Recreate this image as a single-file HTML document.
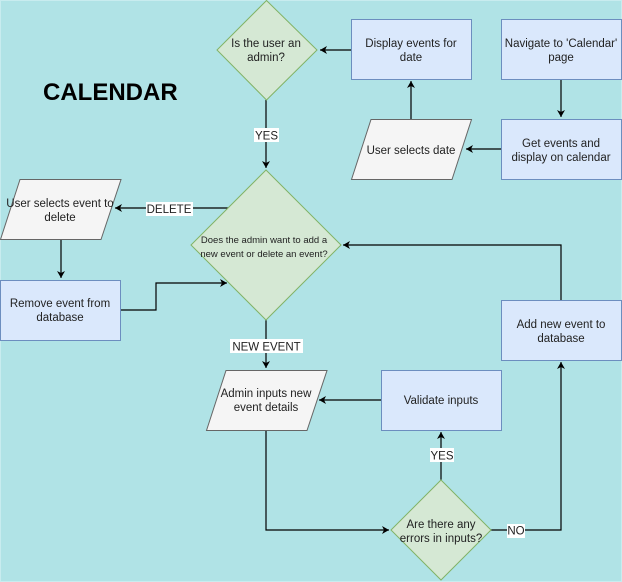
<!DOCTYPE html>
<html><head><meta charset="utf-8"><style>
html,body{margin:0;padding:0;background:#fff;}
svg{display:block;}
text{font-family:"Liberation Sans",Helvetica,sans-serif;font-size:11.5px;fill:#222;}
</style></head><body>
<svg width="622" height="582" viewBox="0 0 622 582" xmlns="http://www.w3.org/2000/svg">
<defs>
<marker id="a" markerWidth="8" markerHeight="8" refX="7" refY="4" orient="auto" markerUnits="userSpaceOnUse">
<path d="M0,0 L7,4 L0,8 L2,4 Z" fill="#000"/>
</marker>
</defs>
<rect x="0.5" y="0.5" width="621" height="581" fill="#b0e3e6" stroke="#c8ecef"/>

<g stroke="#000" stroke-width="1.2" fill="none">
<path d="M351,50 L320,50" marker-end="url(#a)"/>
<path d="M561,79 L561,117" marker-end="url(#a)"/>
<path d="M501,149 L466,149" marker-end="url(#a)"/>
<path d="M411,119 L411,81" marker-end="url(#a)"/>
<path d="M266,100 L266,168" marker-end="url(#a)"/>
<path d="M228,208 L115,208" marker-end="url(#a)"/>
<path d="M61,239 L61,278" marker-end="url(#a)"/>
<path d="M121,310 L156,310 L156,283 L227,283" marker-end="url(#a)"/>
<path d="M266,320 L266,368" marker-end="url(#a)"/>
<path d="M381,400 L319,400" marker-end="url(#a)"/>
<path d="M266,430 L266,530 L389,530" marker-end="url(#a)"/>
<path d="M441,480 L441,432" marker-end="url(#a)"/>
<path d="M491,530 L561,530 L561,362" marker-end="url(#a)"/>
<path d="M561,300 L561,245 L343,245" marker-end="url(#a)"/>
</g>

<g fill="#dae8fc" stroke="#6c8ebf" stroke-width="1">
<rect x="351.5" y="19.5" width="120" height="60"/>
<rect x="501.5" y="19.5" width="120" height="60"/>
<rect x="501.5" y="119.5" width="120" height="60"/>
<rect x="0.5" y="280.5" width="120" height="60"/>
<rect x="381.5" y="370.5" width="120" height="60"/>
<rect x="501.5" y="300.5" width="120" height="60"/>
</g>
<g fill="#f5f5f5" stroke="#666" stroke-width="1">
<polygon points="371,119.5 471.5,119.5 452,179.5 351.5,179.5"/>
<polygon points="20,179.5 121,179.5 101,239.5 0.5,239.5"/>
<polygon points="226,370.5 327,370.5 307,430.5 206.5,430.5"/>
</g>
<g fill="#d5e8d4" stroke="#82b366" stroke-width="1">
<polygon points="266.5,0.5 317,50 266.5,100 217,50"/>
<polygon points="266,170 341,245 266,320 191,245"/>
<polygon points="441,480 491,530 441,580 391,530"/>
</g>

<g fill="#fff">
<rect x="254" y="128" width="25" height="14"/>
<rect x="146" y="202" width="47" height="14"/>
<rect x="230" y="339" width="73" height="14"/>
<rect x="430" y="448" width="24" height="14"/>
<rect x="507" y="524" width="18" height="14"/>
</g>
<g text-anchor="middle">
<text x="266.5" y="139.5">YES</text>
<text x="169" y="213">DELETE</text>
<text x="266.5" y="350.5">NEW EVENT</text>
<text x="442" y="459.5">YES</text>
<text x="516" y="534.5">NO</text>

<text x="266" y="47">Is the user an</text>
<text x="266" y="61">admin?</text>
<text x="411" y="47">Display events for</text>
<text x="411" y="61">date</text>
<text x="561" y="47">Navigate to 'Calendar'</text>
<text x="561" y="61">page</text>
<text x="411" y="154">User selects date</text>
<text x="561" y="147">Get events and</text>
<text x="561" y="161">display on calendar</text>
<text x="60" y="207">User selects event to</text>
<text x="60" y="221">delete</text>
<text x="60" y="307">Remove event from</text>
<text x="60" y="321">database</text>
<text x="264" y="243" style="font-size:9.5px">Does the admin want to add a</text>
<text x="264" y="257" style="font-size:9.5px">new event or delete an event?</text>
<text x="266" y="397">Admin inputs new</text>
<text x="266" y="411">event details</text>
<text x="441" y="404">Validate inputs</text>
<text x="561" y="328">Add new event to</text>
<text x="561" y="342">database</text>
<text x="441" y="528">Are there any</text>
<text x="441" y="542">errors in inputs?</text>
</g>
<text x="43" y="100" style="font-size:24px;font-weight:bold;fill:#000">CALENDAR</text>
</svg>
</body></html>
